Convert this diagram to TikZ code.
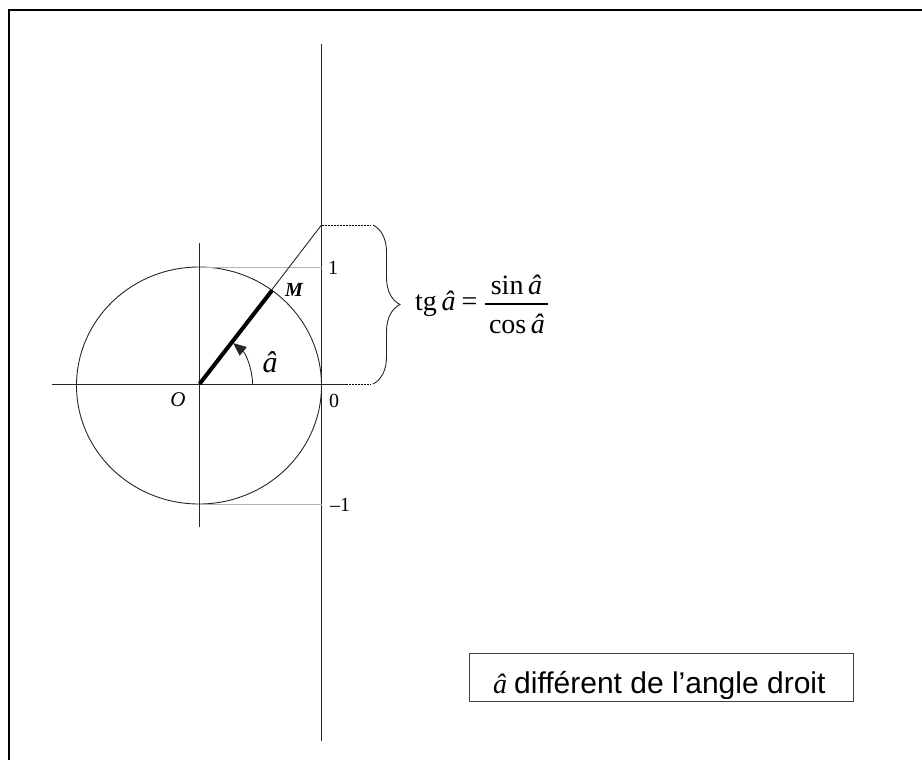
\documentclass[tikz,border=0pt]{standalone}
\usepackage{fontspec}
\setmainfont{Liberation Serif}
\newfontfamily\arialfont{Liberation Sans}
\usetikzlibrary{decorations.pathreplacing,arrows.meta}
\begin{document}
\begin{tikzpicture}[x=1pt,y=-1pt,
  axis/.style={line width=0.9pt,black!85},
  guide/.style={line width=1pt,black!30},
  tickline/.style={line width=0.8pt,black,dash pattern=on 2pt off 1pt},
  lbl/.style={inner sep=0pt,font=\fontsize{20}{22}\selectfont},
  formula/.style={inner sep=0pt,font=\fontsize{28}{30}\selectfont},
  ]
\clip (0,0) rectangle (922,760);
\draw[line width=2pt] (9,790) -- (9,10) -- (950,10);
\coordinate (O) at (199.5,384);
\coordinate (T) at (321.5,225);
\coordinate (M) at (272,290.5);
% axes
\draw[axis] (52,384) -- (346,384);
\draw[axis] (321.5,44) -- (321.5,741);
\draw[axis] (199.5,243) -- (199.5,527);
\draw[axis] (199,385.5) ellipse [x radius=122.5, y radius=118.5];
\draw[guide] (199.5,267) -- (321.5,267);
\draw[guide] (199.5,504) -- (321.5,504);
% tangent line
\draw[axis] (O) -- (T);
\draw[line width=4pt] (O) -- (M);
\draw[tickline] (T) -- (371,225);
\draw[tickline] (346,384) -- (371,384);
\draw[axis, decorate, decoration={brace, amplitude=27pt}] (373,225) -- (373,384);
% angle arc
\draw[axis, -{Triangle[length=13pt,width=11pt]}] (252.5,384) arc[start angle=0, end angle=-50.5, radius=53];
% labels
\node[lbl] (one) at (333,268) {1};
\node[lbl] (zero) at (334,401) {0};
\node[lbl] (mone) at (340,505) {\textendash1};
\node[inner sep=0pt, font=\fontsize{21}{23}\selectfont\itshape] (Olbl) at (178,400) {O};
\node[inner sep=0pt, font=\fontsize{20}{22}\selectfont\bfseries\itshape] (Mlbl) at (294,290) {M};
\node[inner sep=0pt, font=\fontsize{30}{32}\selectfont\itshape] (albl) at (270,362) {â};
% formula
\node[formula, anchor=base west] (tg) at (415,310) {tg\,\textit{â}\hspace{6pt}=};
\node[formula, anchor=base] (num) at (516.5,294) {sin\,\textit{â}};
\node[formula, anchor=base] (den) at (517,333) {cos\,\textit{â}};
\draw[line width=1.1pt] (485,304) -- (548,304);
% box
\node[draw=black!75, line width=1pt, minimum width=384pt, minimum height=48pt, inner sep=0pt, anchor=north west] (box) at (469,653) {};
\begin{scope}
\clip (469,653) rectangle (853,698);
\node[anchor=base west, inner sep=0pt, font=\fontsize{28}{30}\selectfont\itshape] (ahat) at (493,693) {â};
\node[anchor=base west, inner sep=0pt, font=\arialfont\fontsize{30}{32}\selectfont] (txt) at (514,693) {différent de l’angle droit};
\end{scope}
\end{tikzpicture}
\end{document}
